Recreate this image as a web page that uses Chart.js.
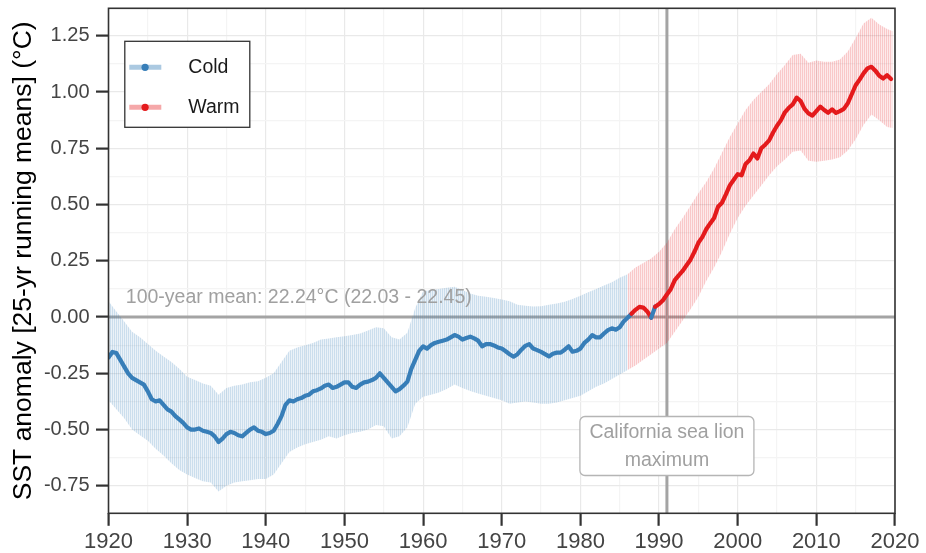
<!DOCTYPE html>
<html>
<head>
<meta charset="utf-8">
<title>SST anomaly</title>
<script src="https://cdn.jsdelivr.net/npm/chart.js@4.4.1/dist/chart.umd.min.js"></script>
<style>
  html, body { margin: 0; padding: 0; background: #fff; }
  #wrap { width: 926px; height: 553px; }
</style>
</head>
<body>
<div id="wrap"><canvas id="c" width="926" height="553"></canvas></div>
<script>
// 25-yr running mean SST anomaly (°C), every half year from 1920.0 to 2019.5
const meanStart = 1920;
const meanStep = 0.5;
const meanValues = [
  -0.18, -0.155, -0.16, -0.19, -0.22, -0.25, -0.27, -0.28, -0.29, -0.30,      // 1920-1924
  -0.33, -0.365, -0.375, -0.37, -0.39, -0.41, -0.42, -0.44, -0.455, -0.47,    // 1925-1929
  -0.49, -0.50, -0.50, -0.495, -0.505, -0.51, -0.515, -0.53, -0.555, -0.54,   // 1930-1934
  -0.52, -0.51, -0.515, -0.525, -0.53, -0.515, -0.50, -0.49, -0.505, -0.51,   // 1935-1939
  -0.52, -0.515, -0.505, -0.475, -0.44, -0.39, -0.37, -0.375, -0.365, -0.36,  // 1940-1944
  -0.35, -0.345, -0.33, -0.325, -0.317, -0.305, -0.30, -0.315, -0.31, -0.30,  // 1945-1949
  -0.29, -0.29, -0.31, -0.315, -0.30, -0.29, -0.287, -0.28, -0.27, -0.25,     // 1950-1954
  -0.27, -0.29, -0.31, -0.33, -0.32, -0.305, -0.287, -0.23, -0.19, -0.15,     // 1955-1959
  -0.13, -0.14, -0.125, -0.115, -0.11, -0.105, -0.10, -0.09, -0.08, -0.087,   // 1960-1964
  -0.10, -0.093, -0.087, -0.095, -0.105, -0.13, -0.12, -0.12, -0.126, -0.135, // 1965-1969
  -0.14, -0.152, -0.165, -0.176, -0.165, -0.145, -0.128, -0.12, -0.14, -0.147,// 1970-1974
  -0.155, -0.165, -0.175, -0.163, -0.158, -0.158, -0.145, -0.13, -0.154, -0.15,// 1975-1979
  -0.14, -0.115, -0.10, -0.08, -0.09, -0.09, -0.073, -0.058, -0.05, -0.056,   // 1980-1984
  -0.045, -0.02, -0.003, 0.015, 0.032, 0.045, 0.042, 0.025, -0.003, 0.046,    // 1985-1989
  0.058, 0.075, 0.10, 0.125, 0.164, 0.185, 0.205, 0.23, 0.255, 0.29,          // 1990-1994
  0.33, 0.355, 0.39, 0.416, 0.44, 0.49, 0.508, 0.545, 0.585, 0.61,            // 1995-1999
  0.635, 0.63, 0.68, 0.697, 0.727, 0.705, 0.75, 0.766, 0.785, 0.82,           // 2000-2004
  0.85, 0.875, 0.91, 0.93, 0.945, 0.975, 0.96, 0.925, 0.905, 0.895,           // 2005-2009
  0.915, 0.935, 0.92, 0.908, 0.923, 0.907, 0.915, 0.925, 0.95, 0.99,          // 2010-2014
  1.03, 1.055, 1.083, 1.105, 1.112, 1.095, 1.072, 1.06, 1.075, 1.058          // 2015-2019
];

// Uncertainty band around the running mean, yearly 1920-2019 plus the last record
const bandYears = Array.from({ length: 100 }, (_, i) => 1920 + i).concat([2019.7]);
const bandUpper = [
  0.07, 0.025, -0.02, -0.065, -0.09, -0.12, -0.15, -0.175, -0.20, -0.23,
  -0.265, -0.28, -0.295, -0.305, -0.345, -0.315, -0.305, -0.30, -0.29, -0.285,
  -0.27, -0.25, -0.20, -0.15, -0.135, -0.125, -0.115, -0.10, -0.095, -0.09,
  -0.085, -0.08, -0.073, -0.06, -0.045, -0.05, -0.09, -0.10, -0.07, 0.04,
  0.115, 0.12, 0.125, 0.13, 0.135, 0.12, 0.105, 0.095, 0.09, 0.085,
  0.078, 0.07, 0.055, 0.05, 0.047, 0.048, 0.055, 0.06, 0.068, 0.08,
  0.095, 0.11, 0.125, 0.14, 0.155, 0.175, 0.19, 0.22, 0.24, 0.26,
  0.29, 0.33, 0.39, 0.44, 0.495, 0.55, 0.60, 0.66, 0.73, 0.80,
  0.86, 0.92, 0.965, 1.00, 1.035, 1.08, 1.12, 1.165, 1.17, 1.13,
  1.14, 1.135, 1.135, 1.145, 1.18, 1.24, 1.305, 1.33, 1.30, 1.28,
  1.27
];
const bandLower = [
  -0.37, -0.41, -0.45, -0.50, -0.525, -0.55, -0.585, -0.615, -0.65, -0.68,
  -0.70, -0.715, -0.73, -0.735, -0.775, -0.75, -0.735, -0.73, -0.725, -0.72,
  -0.72, -0.70, -0.65, -0.60, -0.58, -0.565, -0.555, -0.545, -0.53, -0.54,
  -0.525, -0.515, -0.51, -0.50, -0.48, -0.485, -0.54, -0.53, -0.49, -0.385,
  -0.354, -0.345, -0.335, -0.32, -0.30, -0.315, -0.328, -0.34, -0.35, -0.36,
  -0.37, -0.385, -0.38, -0.375, -0.38, -0.385, -0.385, -0.38, -0.37, -0.36,
  -0.35, -0.33, -0.31, -0.295, -0.275, -0.255, -0.235, -0.215, -0.19, -0.165,
  -0.14, -0.115, -0.065, -0.015, 0.035, 0.09, 0.16, 0.22, 0.29, 0.37,
  0.44, 0.495, 0.54, 0.585, 0.63, 0.67, 0.70, 0.735, 0.74, 0.695,
  0.69, 0.695, 0.70, 0.71, 0.74, 0.79, 0.853, 0.90, 0.875, 0.845,
  0.84
];
const warmFromYear = 1986;

// Axis ticks
const xMajorTicks = [1920, 1930, 1940, 1950, 1960, 1970, 1980, 1990, 2000, 2010, 2020];
const xMinorTicks = [1925, 1935, 1945, 1955, 1965, 1975, 1985, 1995, 2005, 2015];
const yMajorTicks = [-0.75, -0.5, -0.25, 0, 0.25, 0.5, 0.75, 1.0, 1.25];
const yMinorTicks = [-0.625, -0.375, -0.125, 0.125, 0.375, 0.625, 0.875, 1.125];

// Reference marks and texts
const baselineValue = 0;
const sealionYear = 1991;
const meanLabel = '100-year mean: 22.24°C (22.03 - 22.45)';
const sealionLabel = ['California sea lion', 'maximum'];
const seriesNames = ['Cold', 'Warm'];
const yTitle = 'SST anomaly [25-yr running means] (°C)';

const COLD = '#377EB8';
const WARM = '#E41A1C';
const FONT = "'Liberation Sans', Arial, Helvetica, sans-serif";
Chart.defaults.font.family = FONT;

const canvas = document.getElementById('c');
const ctx0 = canvas.getContext('2d');

// vertical hatching used for the uncertainty ribbons
function stripes(strong, weak) {
  const t = document.createElement('canvas');
  t.width = 2; t.height = 1;
  const g = t.getContext('2d');
  g.fillStyle = strong; g.fillRect(0, 0, 1, 1);
  g.fillStyle = weak; g.fillRect(1, 0, 1, 1);
  return ctx0.createPattern(t, 'repeat');
}
const coldHatch = stripes('rgba(55,126,184,0.26)', 'rgba(55,126,184,0.10)');
const warmHatch = stripes('rgba(228,26,28,0.24)', 'rgba(228,26,28,0.09)');

const meanPoints = meanValues.map((v, i) => ({ x: meanStart + i * meanStep, y: v }));
const upperPts = bandYears.map((yr, i) => ({ x: yr, y: bandUpper[i] }));
const lowerPts = bandYears.map((yr, i) => ({ x: yr, y: bandLower[i] }));
const coldUpper = upperPts.filter(p => p.x <= warmFromYear);
const coldLower = lowerPts.filter(p => p.x <= warmFromYear);
const warmUpper = upperPts.filter(p => p.x >= warmFromYear);
const warmLower = lowerPts.filter(p => p.x >= warmFromYear);

const ribbon = (data, fill, bg) => ({
  data, fill, backgroundColor: bg, borderWidth: 0, pointRadius: 0, order: 2
});

const isMultiple = (v, step) => Math.abs(v / step - Math.round(v / step)) < 1e-6;

const overlay = {
  id: 'overlay',
  beforeDatasetsDraw(chart) {
    const { ctx, chartArea: a, scales: { x, y } } = chart;
    ctx.save();
    ctx.strokeStyle = '#a4a4a4';
    ctx.lineWidth = 3;
    const y0 = y.getPixelForValue(baselineValue);
    ctx.beginPath(); ctx.moveTo(a.left, y0); ctx.lineTo(a.right, y0); ctx.stroke();
    const xs = x.getPixelForValue(sealionYear);
    ctx.beginPath(); ctx.moveTo(xs, a.top); ctx.lineTo(xs, a.bottom); ctx.stroke();
    ctx.restore();
  },
  afterDatasetsDraw(chart) {
    const { ctx, chartArea: a, scales: { x, y } } = chart;
    ctx.save();
    // mean annotation
    ctx.font = '19.5px ' + FONT;
    ctx.fillStyle = '#a0a0a0';
    ctx.textAlign = 'left';
    ctx.textBaseline = 'alphabetic';
    ctx.fillText(meanLabel, x.getPixelForValue(1922.2), y.getPixelForValue(0.064));

    // sea lion label box
    const cx = x.getPixelForValue(sealionYear);
    const cy = y.getPixelForValue(-0.573);
    const bw = 174, bh = 59;
    ctx.beginPath();
    ctx.roundRect(cx - bw / 2, cy - bh / 2, bw, bh, 5);
    ctx.fillStyle = '#ffffff';
    ctx.fill();
    ctx.strokeStyle = '#b5b5b5';
    ctx.lineWidth = 1.3;
    ctx.stroke();
    ctx.fillStyle = '#a0a0a0';
    ctx.textAlign = 'center';
    ctx.textBaseline = 'middle';
    ctx.fillText(sealionLabel[0], cx, cy - 13);
    ctx.fillText(sealionLabel[1], cx, cy + 14.5);

    // panel border
    ctx.strokeStyle = '#333333';
    ctx.lineWidth = 1.6;
    ctx.strokeRect(a.left, a.top, a.right - a.left, a.bottom - a.top);

    // legend
    const lx = a.left + 16.3, ly = a.top + 33;
    ctx.fillStyle = '#ffffff';
    ctx.fillRect(lx, ly, 125, 86);
    ctx.strokeStyle = '#333333';
    ctx.lineWidth = 1.3;
    ctx.strokeRect(lx, ly, 125, 86);
    const keys = [
      { name: seriesNames[0], line: 'rgba(55,126,184,0.42)', dot: COLD, y: ly + 26 },
      { name: seriesNames[1], line: 'rgba(228,26,28,0.38)', dot: WARM, y: ly + 66 }
    ];
    keys.forEach(k => {
      ctx.strokeStyle = k.line;
      ctx.lineWidth = 5;
      ctx.lineCap = 'butt';
      ctx.beginPath(); ctx.moveTo(lx + 4.5, k.y); ctx.lineTo(lx + 36.5, k.y); ctx.stroke();
      ctx.fillStyle = k.dot;
      ctx.beginPath(); ctx.arc(lx + 20.3, k.y, 3.6, 0, Math.PI * 2); ctx.fill();
      ctx.fillStyle = '#1a1a1a';
      ctx.font = '19.5px ' + FONT;
      ctx.textAlign = 'left';
      ctx.textBaseline = 'middle';
      ctx.fillText(k.name, lx + 63.5, k.y);
    });
    ctx.restore();
  }
};

new Chart(canvas, {
  type: 'line',
  data: {
    datasets: [
      ribbon(coldUpper, '+1', coldHatch),
      ribbon(coldLower, false, coldHatch),
      ribbon(warmUpper, '+1', warmHatch),
      ribbon(warmLower, false, warmHatch),
      {
        data: meanPoints,
        borderColor: COLD,
        borderWidth: 4.2,
        borderJoinStyle: 'round',
        borderCapStyle: 'round',
        pointRadius: 0,
        fill: false,
        order: 0,
        segment: {
          borderColor: c => (c.p0.parsed.y > 0 ? WARM : COLD)
        }
      }
    ]
  },
  options: {
    responsive: false,
    animation: false,
    devicePixelRatio: 1,
    events: [],
    layout: { padding: { left: 0, right: 31, top: 8.3, bottom: 0 } },
    plugins: { legend: { display: false }, tooltip: { enabled: false } },
    elements: { line: { tension: 0 } },
    scales: {
      x: {
        type: 'linear',
        min: 1920,
        max: 2020,
        afterBuildTicks: s => {
          s.ticks = xMajorTicks.concat(xMinorTicks).sort((p, q) => p - q).map(v => ({ value: v }));
        },
        afterFit: s => { s.height = 39.7; s.paddingLeft = 0; s.paddingRight = 0; },
        border: { display: false },
        ticks: {
          autoSkip: false,
          maxRotation: 0,
          padding: 3,
          color: '#444444',
          font: { size: 22 },
          callback: v => (isMultiple(v, 10) ? String(v) : '')
        },
        grid: {
          color: c => (isMultiple(c.tick.value, 10) ? '#e9e9e9' : '#f4f4f4'),
          lineWidth: 1.2,
          tickLength: 12.5,
          tickWidth: 2.2,
          tickColor: c => (isMultiple(c.tick.value, 10) ? '#333333' : 'rgba(0,0,0,0)')
        }
      },
      y: {
        type: 'linear',
        min: -0.872,
        max: 1.372,
        afterBuildTicks: s => {
          s.ticks = yMajorTicks.concat(yMinorTicks).sort((p, q) => p - q).map(v => ({ value: v }));
        },
        afterFit: s => { s.width = 108.5; s.paddingTop = 0; s.paddingBottom = 0; },
        border: { display: false },
        title: {
          display: true,
          text: yTitle,
          color: '#000000',
          font: { size: 26.5 },
          padding: { top: 7.5, bottom: 0 }
        },
        ticks: {
          autoSkip: false,
          padding: 6.5,
          color: '#444444',
          font: { size: 20 },
          callback: v => (isMultiple(v, 0.25) ? v.toFixed(2) : '')
        },
        grid: {
          color: c => (isMultiple(c.tick.value, 0.25) ? '#e9e9e9' : '#f4f4f4'),
          lineWidth: 1.2,
          tickLength: 12.5,
          tickWidth: 2.2,
          tickColor: c => (isMultiple(c.tick.value, 0.25) ? '#333333' : 'rgba(0,0,0,0)')
        }
      }
    }
  },
  plugins: [overlay]
});
</script>
</body>
</html>
